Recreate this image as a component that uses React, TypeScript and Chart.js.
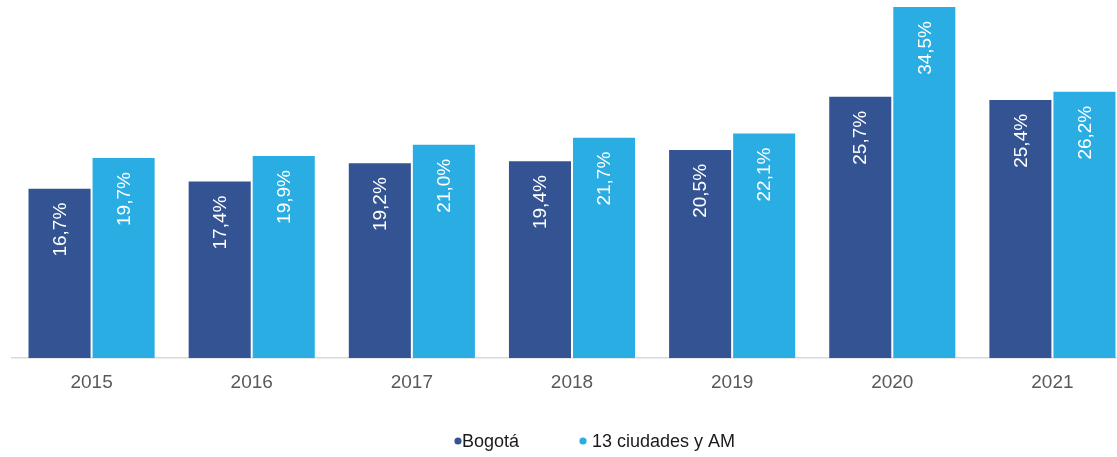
import React, { useEffect, useRef } from "react";
import { Chart, registerables } from "chart.js";

Chart.register(...registerables);

const years = ["2015", "2016", "2017", "2018", "2019", "2020", "2021"];
const bogota = [16.7, 17.4, 19.2, 19.4, 20.5, 25.7, 25.4];
const ciudades = [19.7, 19.9, 21.0, 21.7, 22.1, 34.5, 26.2];
const seriesNames = ["Bogotá", "13 ciudades y AM"];
const seriesColors = ["#335393", "#29ADE3"];

const FONT = "'Liberation Sans', Arial, sans-serif";

const valueLabels = {
  id: "valueLabels",
  afterDatasetsDraw(chart: any) {
    const ctx = chart.ctx;
    ctx.save();
    ctx.fillStyle = "#ffffff";
    ctx.font = `19px ${FONT}`;
    ctx.textAlign = "right";
    ctx.textBaseline = "middle";
    chart.data.datasets.forEach((ds: any, di: number) => {
      const meta = chart.getDatasetMeta(di);
      meta.data.forEach((el: any, i: number) => {
        const v = ds.data[i] as number;
        const txt = v.toFixed(1).replace(".", ",") + "%";
        ctx.save();
        ctx.translate(el.x, el.y + 15);
        ctx.rotate(-Math.PI / 2);
        ctx.fillText(txt, 0, 1);
        ctx.restore();
      });
    });
    ctx.restore();
  },
};

const legendItems = [
  { dot: 458, text: 462 },
  { dot: 583, text: 592 },
];

const customLegend = {
  id: "customLegend",
  afterDraw(chart: any) {
    const ctx = chart.ctx;
    ctx.save();
    ctx.font = `18px ${FONT}`;
    ctx.textBaseline = "middle";
    ctx.textAlign = "left";
    const y = 441;
    chart.data.datasets.forEach((ds: any, di: number) => {
      const pos = legendItems[di];
      ctx.fillStyle = ds.backgroundColor;
      ctx.beginPath();
      ctx.arc(pos.dot, y, 3.6, 0, Math.PI * 2);
      ctx.fill();
      ctx.fillStyle = "#1a1a1a";
      ctx.fillText(ds.label, pos.text, y + 1);
    });
    ctx.restore();
  },
};

export default function App() {
  const ref = useRef<HTMLCanvasElement | null>(null);
  useEffect(() => {
    if (!ref.current) return;
    const chart = new Chart(ref.current, {
      type: "bar",
      data: {
        labels: years,
        datasets: [
          {
            label: seriesNames[0],
            data: bogota,
            backgroundColor: seriesColors[0],
            borderColor: "rgba(255,255,255,0.3)",
            borderWidth: 1,
            categoryPercentage: 0.8,
            barPercentage: 1,
          },
          {
            label: seriesNames[1],
            data: ciudades,
            backgroundColor: seriesColors[1],
            borderColor: "rgba(255,255,255,0.3)",
            borderWidth: 1,
            categoryPercentage: 0.8,
            barPercentage: 1,
          },
        ],
      },
      options: {
        responsive: false,
        maintainAspectRatio: false,
        animation: false,
        layout: { padding: { left: 11.5, right: 7.5, top: 6, bottom: 50 } },
        plugins: {
          legend: { display: false },
          tooltip: { enabled: false },
        },
        scales: {
          x: {
            grid: { display: false, drawTicks: false },
            border: { display: true, color: "#d9d9d9", width: 1.5 },
            ticks: {
              color: "#595959",
              font: { family: FONT, size: 19 },
              padding: 13,
            },
          },
          y: {
            display: false,
            min: 0,
            max: 34.5,
          },
        },
      },
      plugins: [valueLabels, customLegend],
    });
    return () => chart.destroy();
  }, []);
  return (
    <div
      style={{
        position: "absolute",
        left: 0,
        top: 0,
        width: 1117,
        height: 457,
        overflow: "hidden",
        background: "#fff",
      }}
    >
      <canvas ref={ref} width={1140} height={457} style={{ display: "block" }} />
    </div>
  );
}
